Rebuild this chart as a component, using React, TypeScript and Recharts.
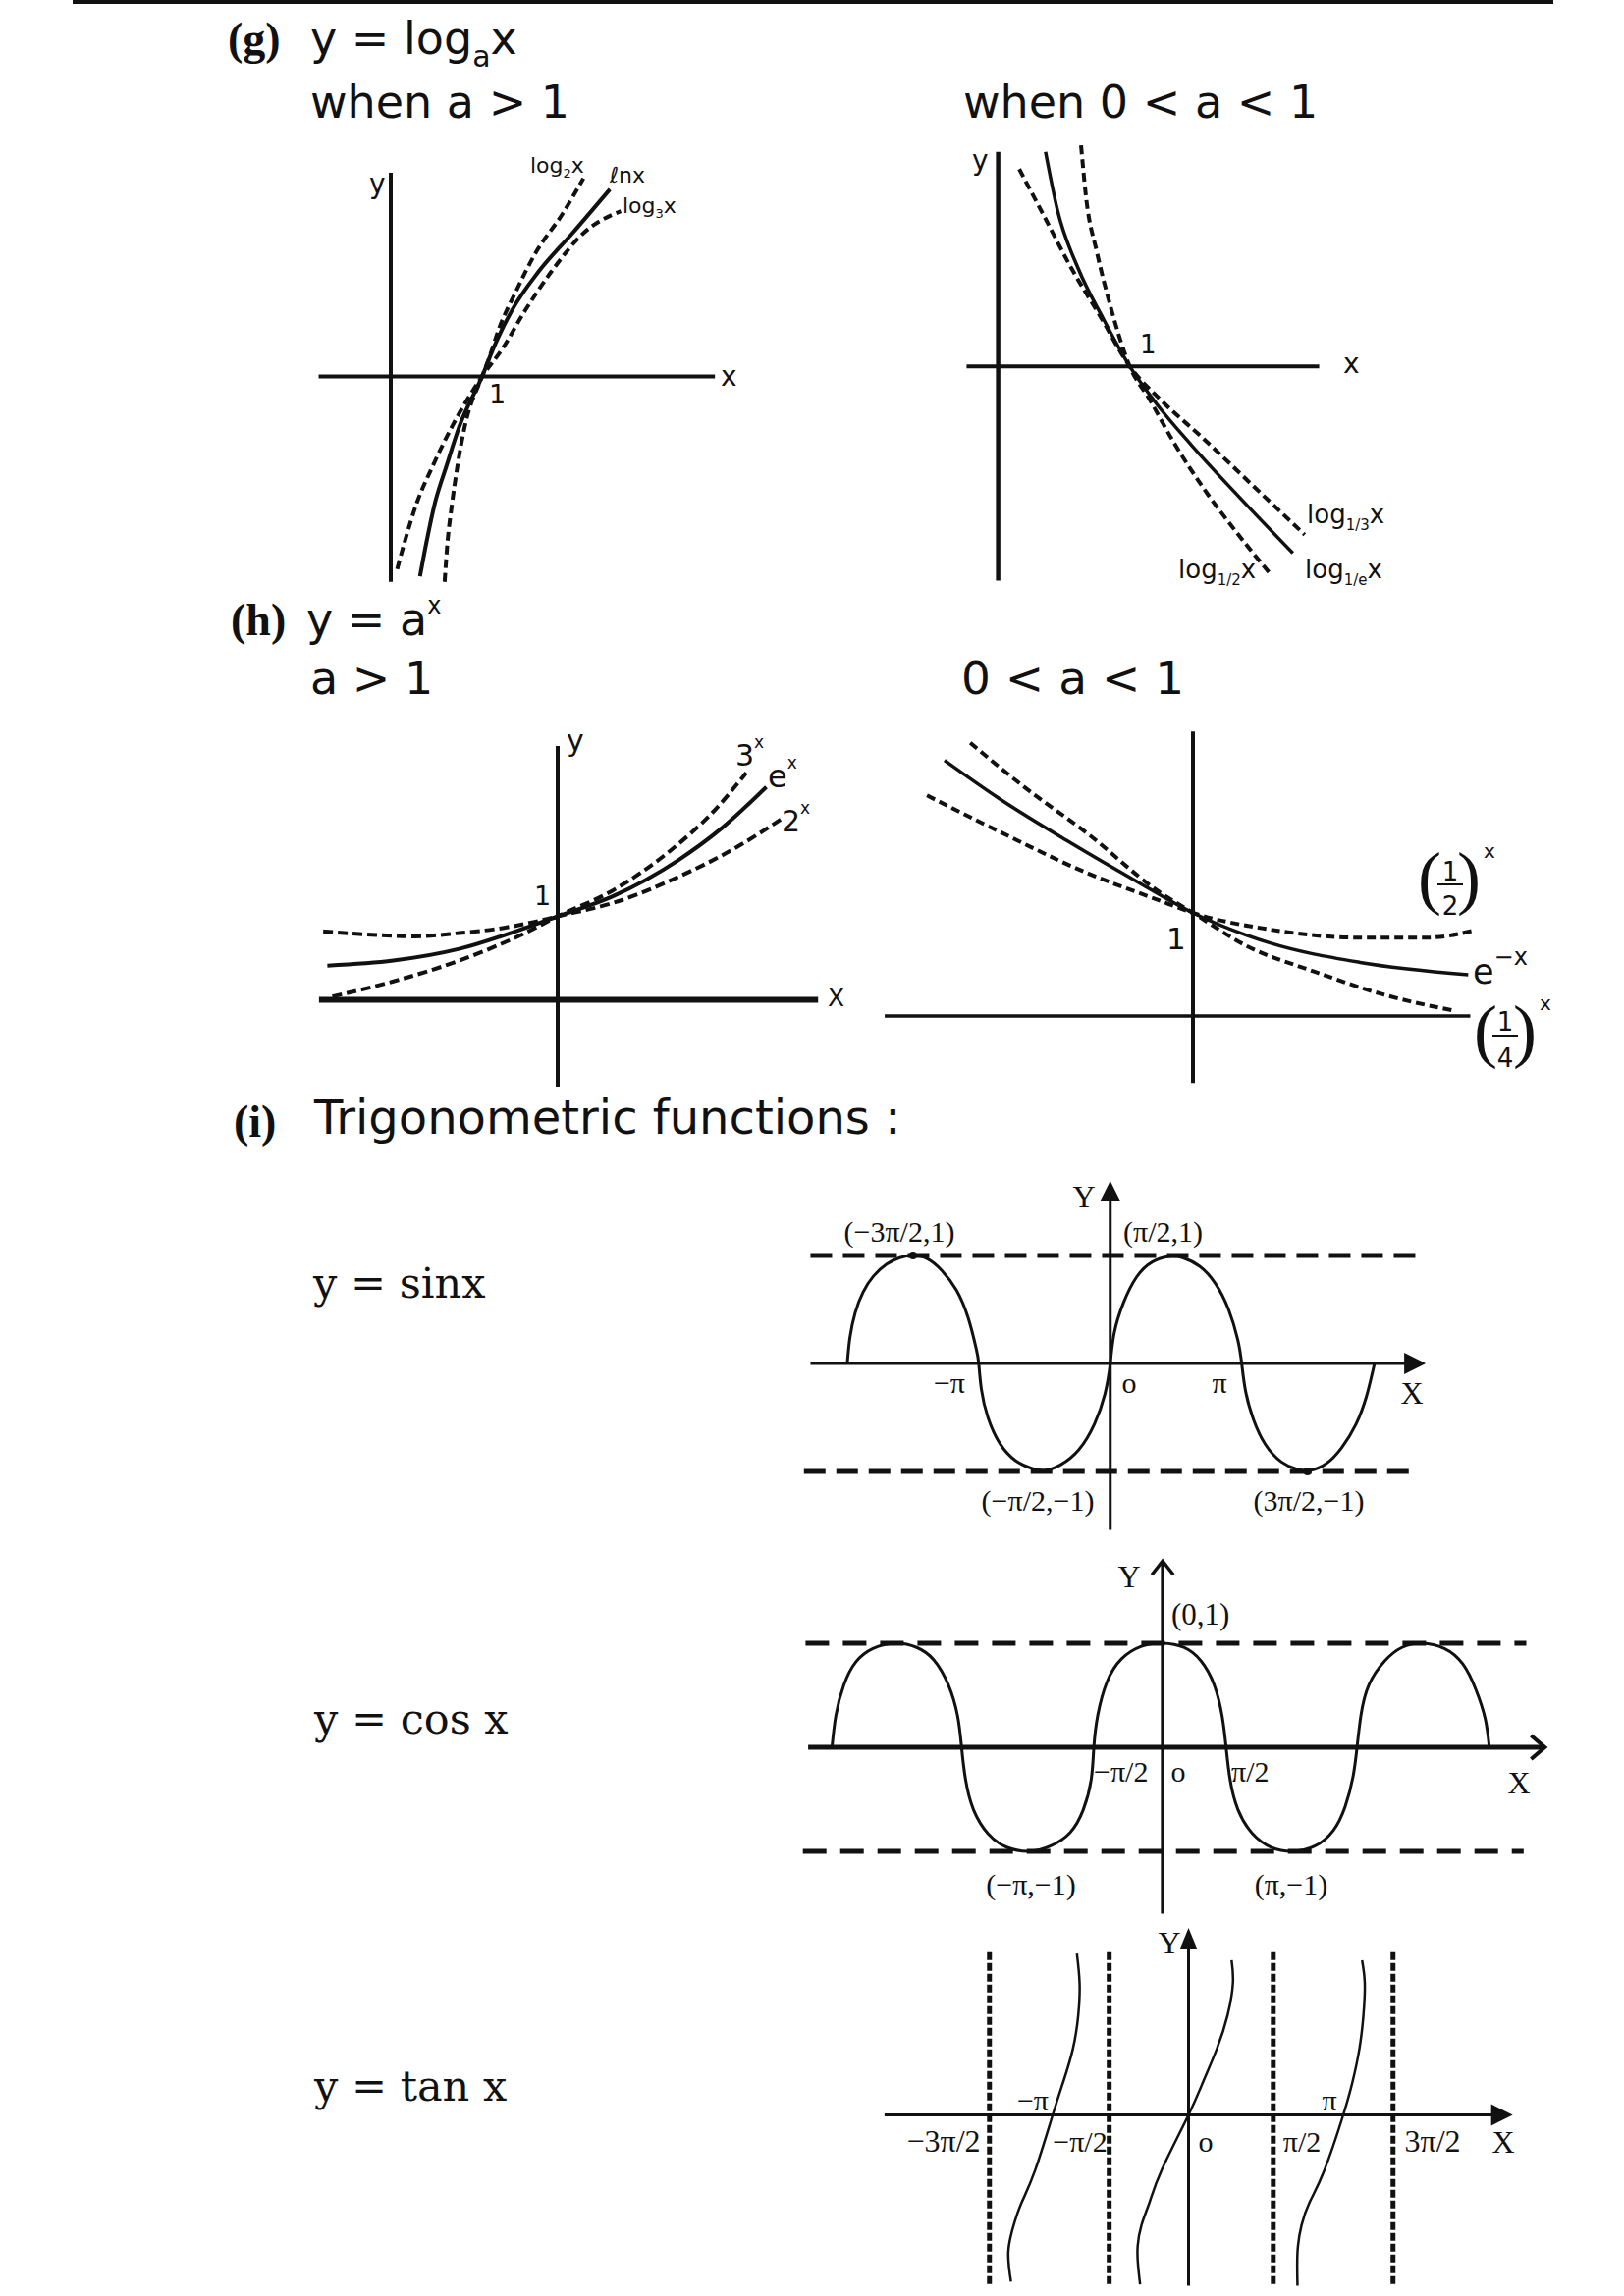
import React from 'react';
import { LineChart, Line, XAxis, YAxis, ReferenceLine, ReferenceDot } from 'recharts';

// ---------------- data ----------------
// (g) y = log_a x, a > 1   (1 unit = distance from O to 1 on the x-axis)
const lnXData = [[0.32,-2.19],[0.39,-1.82],[0.48,-1.40],[0.61,-0.98],[0.75,-0.55],[1.0,0],[1.12,0.30],[1.33,0.73],[1.62,1.15],[1.99,1.57],[2.40,2.05]];
const log2Data = [[0.59,-2.25],[0.62,-1.83],[0.67,-1.40],[0.73,-0.98],[0.81,-0.55],[1.0,0],[1.08,0.21],[1.18,0.51],[1.37,0.93],[1.59,1.36],[1.88,1.78],[2.11,2.17]];
const log3Data = [[0.07,-2.11],[0.15,-1.82],[0.28,-1.40],[0.46,-0.98],[0.67,-0.55],[1.0,0],[1.22,0.30],[1.47,0.72],[1.76,1.15],[2.11,1.57],[2.52,1.81]];
// (g) 0 < a < 1
const logInvEData = [[0.36,1.63],[0.45,1.19],[0.61,0.74],[0.80,0.36],[1.0,0],[1.20,-0.28],[1.47,-0.60],[1.81,-0.97],[2.24,-1.42]];
const logHalfData = [[0.63,1.68],[0.67,1.27],[0.75,0.87],[0.85,0.47],[1.0,0],[1.15,-0.25],[1.33,-0.57],[1.57,-0.94],[1.81,-1.26],[2.07,-1.58]];
const logThirdData = [[0.16,1.50],[0.35,1.14],[0.56,0.74],[0.77,0.39],[1.0,0],[1.23,-0.25],[1.55,-0.54],[1.95,-0.92],[2.33,-1.28]];
// (h) y = a^x, a > 1
const expEData = [[-2.76,0.41],[-1.97,0.47],[-1.18,0.61],[-0.39,0.86],[0,1],[0.66,1.24],[1.44,1.67],[1.97,2.06],[2.50,2.55]];
const exp3Data = [[-2.70,0.04],[-1.97,0.22],[-1.18,0.47],[-0.39,0.80],[0,1],[0.66,1.31],[1.34,1.78],[1.86,2.25],[2.26,2.72]];
const exp2Data = [[-2.81,0.82],[-2.23,0.78],[-1.71,0.76],[-1.18,0.80],[-0.66,0.86],[-0.34,0.92],[0,1],[0.66,1.16],[1.44,1.47],[2.13,1.82],[2.70,2.18]];
// (h) 0 < a < 1
const expNegEData = [[-2.41,2.48],[-1.88,2.11],[-1.22,1.70],[-0.57,1.32],[0,1],[0.74,0.71],[1.62,0.52],[2.67,0.40]];
const expHalfData = [[-2.58,2.14],[-1.88,1.79],[-1.01,1.38],[-0.35,1.13],[0,1],[0.74,0.84],[1.62,0.76],[2.27,0.76],[2.73,0.83]];
const expQuarterData = [[-2.16,2.65],[-1.66,2.24],[-1.01,1.76],[-0.35,1.22],[0,1],[0.52,0.68],[1.18,0.43],[1.84,0.21],[2.54,0.05]];
// (i) y = sin x   (x in multiples of π)
const sinData = [
  [-2.0,0],[-1.98,0.24],[-1.94,0.47],[-1.88,0.66],[-1.8,0.81],[-1.7,0.92],[-1.6,0.98],[-1.5,1.0],[-1.39,0.97],[-1.28,0.86],[-1.17,0.68],[-1.08,0.42],[-1.02,0.14],[-1.0,0],
  [-0.98,-0.24],[-0.93,-0.5],[-0.84,-0.74],[-0.72,-0.9],[-0.6,-0.97],[-0.5,-0.99],[-0.38,-0.94],[-0.24,-0.8],[-0.12,-0.56],[-0.04,-0.28],[0,0],
  [0.03,0.28],[0.1,0.56],[0.2,0.8],[0.32,0.94],[0.45,0.99],[0.55,0.98],[0.68,0.9],[0.8,0.74],[0.9,0.5],[0.97,0.22],[1.0,0],
  [1.03,-0.26],[1.09,-0.52],[1.18,-0.75],[1.3,-0.91],[1.42,-0.98],[1.52,-0.99],[1.64,-0.93],[1.76,-0.78],[1.87,-0.56],[1.95,-0.3],[2.01,0]];
// (i) y = cos x   (x in multiples of π)
const cosData = [
  [-2.5,0],[-2.47,0.31],[-2.41,0.6],[-2.32,0.82],[-2.19,0.95],[-2.02,1.0],[-1.86,0.96],[-1.73,0.84],[-1.62,0.6],[-1.55,0.3],[-1.52,0],
  [-1.49,-0.31],[-1.43,-0.6],[-1.32,-0.83],[-1.18,-0.96],[-1.01,-1.0],[-0.85,-0.95],[-0.7,-0.82],[-0.6,-0.6],[-0.54,-0.31],[-0.52,0],
  [-0.49,0.31],[-0.42,0.63],[-0.31,0.85],[-0.16,0.97],[0,1],[0.16,0.96],[0.29,0.83],[0.39,0.6],[0.45,0.3],[0.48,0],
  [0.51,-0.31],[0.57,-0.6],[0.68,-0.83],[0.82,-0.96],[0.98,-1.0],[1.15,-0.95],[1.29,-0.8],[1.38,-0.57],[1.44,-0.28],[1.47,0],
  [1.5,0.31],[1.56,0.6],[1.68,0.83],[1.81,0.96],[1.96,1.0],[2.13,0.95],[2.27,0.8],[2.37,0.55],[2.44,0.27],[2.47,0]];
// (i) y = tan x   (x in multiples of π, as sketched)
const tanLeftData = [[-1.32,-1.24],[-1.34,-1.02],[-1.30,-0.82],[-1.24,-0.65],[-1.14,-0.41],[-1.01,0],[-0.93,0.25],[-0.86,0.49],[-0.82,0.74],[-0.81,0.98],[-0.83,1.20]];
const tanMidData = [[-0.36,-1.26],[-0.38,-1.02],[-0.35,-0.82],[-0.29,-0.65],[-0.20,-0.41],[0,0],[0.11,0.25],[0.21,0.49],[0.29,0.74],[0.33,0.98],[0.32,1.15]];
const tanRightData = [[0.81,-1.27],[0.81,-1.02],[0.84,-0.82],[0.90,-0.65],[1.01,-0.41],[1.15,0],[1.22,0.25],[1.27,0.49],[1.30,0.74],[1.31,0.98],[1.29,1.15]];
const tanAsymptotes = [-1.48, -0.59, 0.63, 1.52];

// tick labels / annotations
const sinTickLabels = ['−π', 'o', 'π'];
const sinPointLabels = ['(−3π/2,1)', '(π/2,1)', '(−π/2,−1)', '(3π/2,−1)'];
const cosTickLabels = ['−π/2', 'o', 'π/2'];
const cosPointLabels = ['(0,1)', '(−π,−1)', '(π,−1)'];
const tanTickLabels = ['−3π/2', '−π/2', 'o', 'π/2', '3π/2'];
const tanAboveLabels = ['−π', 'π'];

// ---------------- helpers ----------------
const toPts = (a: number[][]) => a.map(([x, y]) => ({ x, y }));
const INK = '#111';
const SANS = "'DejaVu Sans', sans-serif";
const SERIF = "'DejaVu Serif', serif";
const TIMES = "'Liberation Serif', serif";

const lineProps = { dot: false, isAnimationActive: false, stroke: INK, dataKey: 'y' } as const;

function Frame({ left, top, width, height, xDomain, yDomain, children }: any) {
  return (
    <div style={{ position: 'absolute', left, top, width, height }}>
      <LineChart width={width} height={height} margin={{ top: 0, right: 0, bottom: 0, left: 0 }}>
        <XAxis type="number" dataKey="x" domain={xDomain} hide allowDataOverflow />
        <YAxis type="number" dataKey="y" domain={yDomain} hide allowDataOverflow />
        {children}
      </LineChart>
    </div>
  );
}

const seg = (x1: number, y1: number, x2: number, y2: number) => [{ x: x1, y: y1 }, { x: x2, y: y2 }];

const arrowRight = (half: number, len: number) => (p: any) => (
  <polygon points={`${p.cx},${p.cy} ${p.cx - len},${p.cy - half} ${p.cx - len},${p.cy + half}`} fill={INK} />
);
const arrowUp = (half: number, len: number) => (p: any) => (
  <polygon points={`${p.cx},${p.cy} ${p.cx - half},${p.cy + len} ${p.cx + half},${p.cy + len}`} fill={INK} />
);
const chevronRight = (half: number, len: number) => (p: any) => (
  <polyline points={`${p.cx - len},${p.cy - half} ${p.cx},${p.cy} ${p.cx - len},${p.cy + half}`} fill="none" stroke={INK} strokeWidth={4} />
);
const chevronUp = (half: number, len: number) => (p: any) => (
  <polyline points={`${p.cx - half},${p.cy + len} ${p.cx},${p.cy} ${p.cx + half},${p.cy + len}`} fill="none" stroke={INK} strokeWidth={3.5} />
);

export default function App() {
  return (
    <div style={{ position: 'absolute', left: 0, top: 0, width: 1654, height: 2339, background: '#fff', overflow: 'hidden' }}>
      <div style={{ position: 'absolute', left: 74, top: 0, width: 1508, height: 4, background: INK }} />

      {/* (g) a > 1 */}
      <Frame left={305} top={151} width={465} height={465} xDomain={[-1, 4]} yDomain={[-2.5, 2.5]}>
        <ReferenceLine segment={seg(-0.79, 0, 3.55, 0)} stroke={INK} strokeWidth={4} ifOverflow="visible" />
        <ReferenceLine segment={seg(0, 2.23, 0, -2.25)} stroke={INK} strokeWidth={4} ifOverflow="visible" />
        <Line {...lineProps} data={toPts(log2Data)} type="monotone" strokeWidth={4} strokeDasharray="9 5" />
        <Line {...lineProps} data={toPts(log3Data)} type="monotone" strokeWidth={4} strokeDasharray="9 5" />
        <Line {...lineProps} data={toPts(lnXData)} type="monotone" strokeWidth={4} />
      </Frame>

      {/* (g) 0 < a < 1 */}
      <Frame left={962.8} top={132} width={428.8} height={482.4} xDomain={[-0.4, 2.8]} yDomain={[-1.8, 1.8]}>
        <ReferenceLine segment={seg(-0.24, 0, 2.44, 0)} stroke={INK} strokeWidth={4} ifOverflow="visible" />
        <ReferenceLine segment={seg(0, 1.63, 0, -1.63)} stroke={INK} strokeWidth={4.5} ifOverflow="visible" />
        <Line {...lineProps} data={toPts(logHalfData)} type="monotone" strokeWidth={4} strokeDasharray="9 5" />
        <Line {...lineProps} data={toPts(logThirdData)} type="monotone" strokeWidth={4} strokeDasharray="9 5" />
        <Line {...lineProps} data={toPts(logInvEData)} type="monotone" strokeWidth={3.5} />
      </Frame>

      {/* (h) a > 1 */}
      <Frame left={296.3} top={720.8} width={544} height={425} xDomain={[-3.2, 3.2]} yDomain={[-1.5, 3.5]}>
        <ReferenceLine segment={seg(-2.86, 0, 3.12, 0)} stroke={INK} strokeWidth={6} ifOverflow="visible" />
        <ReferenceLine segment={seg(0, 3.04, 0, -1.04)} stroke={INK} strokeWidth={4} ifOverflow="visible" />
        <Line {...lineProps} data={toPts(exp3Data)} type="monotone" strokeWidth={4} strokeDasharray="10 5" />
        <Line {...lineProps} data={toPts(exp2Data)} type="monotone" strokeWidth={4} strokeDasharray="10 5" />
        <Line {...lineProps} data={toPts(expEData)} type="monotone" strokeWidth={4} />
      </Frame>

      {/* (h) 0 < a < 1 */}
      <Frame left={879.2} top={720} width={672} height={420} xDomain={[-3.2, 3.2]} yDomain={[-1, 3]}>
        <ReferenceLine segment={seg(-2.99, 0, 2.69, 0)} stroke={INK} strokeWidth={3.5} ifOverflow="visible" />
        <ReferenceLine segment={seg(0, 2.76, 0, -0.65)} stroke={INK} strokeWidth={4} ifOverflow="visible" />
        <Line {...lineProps} data={toPts(expQuarterData)} type="monotone" strokeWidth={4} strokeDasharray="9 5" />
        <Line {...lineProps} data={toPts(expHalfData)} type="monotone" strokeWidth={4} strokeDasharray="9 5" />
        <Line {...lineProps} data={toPts(expNegEData)} type="monotone" strokeWidth={3.5} />
      </Frame>

      {/* sin */}
      <Frame left={795.65} top={1169.3} width={669.5} height={440} xDomain={[-2.5, 2.5]} yDomain={[-2, 2]}>
        <ReferenceLine segment={seg(-2.28, 1, 2.33, 1)} stroke={INK} strokeWidth={5} strokeDasharray="22 11" ifOverflow="visible" />
        <ReferenceLine segment={seg(-2.33, -1, 2.28, -1)} stroke={INK} strokeWidth={5} strokeDasharray="22 11" ifOverflow="visible" />
        <ReferenceLine segment={seg(-2.28, 0, 2.3, 0)} stroke={INK} strokeWidth={3} ifOverflow="visible" />
        <ReferenceLine segment={seg(0, 1.6, 0, -1.54)} stroke={INK} strokeWidth={3} ifOverflow="visible" />
        <ReferenceDot x={2.40} y={0} r={10} shape={arrowRight(11, 22)} ifOverflow="visible" />
        <ReferenceDot x={0} y={1.69} r={10} shape={arrowUp(10, 20)} ifOverflow="visible" />
        <Line {...lineProps} data={toPts(sinData)} type="natural" strokeWidth={3} />
        <ReferenceDot x={-1.5} y={1} r={4} fill={INK} stroke="none" ifOverflow="visible" />
        <ReferenceDot x={1.5} y={-1} r={4} fill={INK} stroke="none" ifOverflow="visible" />
      </Frame>

      {/* cos */}
      <Frame left={779.6} top={1568} width={808.2} height={424} xDomain={[-3, 3]} yDomain={[-2, 2]}>
        <ReferenceLine segment={seg(-2.70, 1, 2.75, 1)} stroke={INK} strokeWidth={5} strokeDasharray="24 14" ifOverflow="visible" />
        <ReferenceLine segment={seg(-2.72, -1, 2.73, -1)} stroke={INK} strokeWidth={5} strokeDasharray="24 14" ifOverflow="visible" />
        <ReferenceLine segment={seg(-2.68, 0, 2.88, 0)} stroke={INK} strokeWidth={5} ifOverflow="visible" />
        <ReferenceLine segment={seg(0, 1.78, 0, -1.6)} stroke={INK} strokeWidth={3.5} ifOverflow="visible" />
        <ReferenceDot x={2.89} y={0} r={10} shape={chevronRight(12, 14)} ifOverflow="visible" />
        <ReferenceDot x={0} y={1.79} r={10} shape={chevronUp(11, 14)} ifOverflow="visible" />
        <Line {...lineProps} data={toPts(cosData)} type="natural" strokeWidth={3} />
      </Frame>

      {/* tan */}
      <Frame left={867.9} top={1948.5} width={685} height={411} xDomain={[-2.5, 2.5]} yDomain={[-1.5, 1.5]}>
        {tanAsymptotes.map((a) => (
          <ReferenceLine key={a} segment={seg(a, 1.21, a, -1.28)} stroke={INK} strokeWidth={5} strokeDasharray="8 3" ifOverflow="visible" />
        ))}
        <ReferenceLine segment={seg(-2.26, 0, 2.3, 0)} stroke={INK} strokeWidth={3} ifOverflow="visible" />
        <ReferenceLine segment={seg(0, 1.3, 0, -1.27)} stroke={INK} strokeWidth={3} ifOverflow="visible" />
        <ReferenceDot x={2.41} y={0} r={10} shape={arrowRight(11, 22)} ifOverflow="visible" />
        <ReferenceDot x={0} y={1.39} r={10} shape={arrowUp(9, 22)} ifOverflow="visible" />
        <Line {...lineProps} data={toPts(tanLeftData)} type="natural" strokeWidth={2.5} />
        <Line {...lineProps} data={toPts(tanMidData)} type="natural" strokeWidth={2.5} />
        <Line {...lineProps} data={toPts(tanRightData)} type="natural" strokeWidth={2.5} />
      </Frame>

      {/* ---------------- text ---------------- */}
      <svg width={1654} height={2339} style={{ position: 'absolute', left: 0, top: 0, pointerEvents: 'none' }} fill={INK}>
        {/* headings */}
        <text x={232} y={55} fontFamily={TIMES} fontWeight="bold" fontSize={46}>(g)</text>
        <text x={316} y={55} fontFamily={SANS} fontSize={46}>y = log<tspan dy={13} fontSize={30}>a</tspan><tspan dy={-13}>x</tspan></text>
        <text x={316} y={120} fontFamily={SANS} fontSize={46}>when a &gt; 1</text>
        <text x={981} y={120} fontFamily={SANS} fontSize={46}>when 0 &lt; a &lt; 1</text>

        <text x={235} y={647} fontFamily={TIMES} fontWeight="bold" fontSize={46}>(h)</text>
        <text x={312} y={647} fontFamily={SANS} fontSize={46}>y = a<tspan dy={-22} fontSize={24}>x</tspan></text>
        <text x={316} y={707} fontFamily={SANS} fontSize={46}>a &gt; 1</text>
        <text x={979} y={707} fontFamily={SANS} fontSize={47}>0 &lt; a &lt; 1</text>

        <text x={238} y={1158} fontFamily={TIMES} fontWeight="bold" fontSize={46}>(i)</text>
        <text x={320} y={1155} fontFamily={SANS} fontSize={48}>Trigonometric functions :</text>

        <text x={319} y={1322} fontFamily={SERIF} fontSize={43}>y = sinx</text>
        <text x={320} y={1766} fontFamily={SERIF} fontSize={43}>y = cos x</text>
        <text x={320} y={2140} fontFamily={SERIF} fontSize={43}>y = tan x</text>

        {/* (g) a>1 labels */}
        <text x={376} y={197} fontFamily={SANS} fontSize={28}>y</text>
        <text x={734} y={393} fontFamily={SANS} fontSize={28}>x</text>
        <text x={498} y={411} fontFamily={SANS} fontSize={27}>1</text>
        <text x={540} y={176} fontFamily={SANS} fontSize={22}>log<tspan dy={5} fontSize={13}>2</tspan><tspan dy={-5}>x</tspan></text>
        <text x={621} y={186} fontFamily={SANS} fontSize={22}>ℓnx</text>
        <text x={634} y={217} fontFamily={SANS} fontSize={22}>log<tspan dy={5} fontSize={13}>3</tspan><tspan dy={-5}>x</tspan></text>

        {/* (g) 0<a<1 labels */}
        <text x={990} y={173} fontFamily={SANS} fontSize={28}>y</text>
        <text x={1368} y={380} fontFamily={SANS} fontSize={28}>x</text>
        <text x={1161} y={360} fontFamily={SANS} fontSize={26}>1</text>
        <text x={1331} y={533} fontFamily={SANS} fontSize={26}>log<tspan dy={7} fontSize={15}>1/3</tspan><tspan dy={-7}>x</tspan></text>
        <text x={1200} y={589} fontFamily={SANS} fontSize={26}>log<tspan dy={7} fontSize={15}>1/2</tspan><tspan dy={-7}>x</tspan></text>
        <text x={1329} y={589} fontFamily={SANS} fontSize={26}>log<tspan dy={7} fontSize={15}>1/e</tspan><tspan dy={-7}>x</tspan></text>

        {/* (h) a>1 labels */}
        <text x={577} y={765} fontFamily={SANS} fontSize={30}>y</text>
        <text x={544} y={922} fontFamily={SANS} fontSize={27}>1</text>
        <text x={843} y={1025} fontFamily={SANS} fontSize={25}>X</text>
        <text x={749} y={780} fontFamily={SANS} fontSize={30}>3<tspan dy={-18} fontSize={17}>x</tspan></text>
        <text x={782} y={802} fontFamily={SANS} fontSize={32}>e<tspan dy={-19} fontSize={17}>x</tspan></text>
        <text x={796} y={847} fontFamily={SANS} fontSize={30}>2<tspan dy={-18} fontSize={17}>x</tspan></text>

        {/* (h) 0<a<1 labels */}
        <text x={1188} y={967} fontFamily={SANS} fontSize={31}>1</text>
        <text x={1456} y={918} fontFamily={TIMES} fontSize={72} textAnchor="middle">(</text>
        <text x={1496} y={918} fontFamily={TIMES} fontSize={72} textAnchor="middle">)</text>
        <text x={1477} y={897} fontFamily={SANS} fontSize={26} textAnchor="middle">1</text>
        <line x1={1464} y1={901} x2={1490} y2={901} stroke={INK} strokeWidth={2} />
        <text x={1477} y={932} fontFamily={SANS} fontSize={26} textAnchor="middle">2</text>
        <text x={1511} y={874} fontFamily={SANS} fontSize={20}>x</text>
        <text x={1500} y={1002} fontFamily={SANS} fontSize={35}>e<tspan dy={-19} fontSize={24}>−x</tspan></text>
        <text x={1513} y={1074} fontFamily={TIMES} fontSize={72} textAnchor="middle">(</text>
        <text x={1553} y={1074} fontFamily={TIMES} fontSize={72} textAnchor="middle">)</text>
        <text x={1533} y={1050} fontFamily={SANS} fontSize={26} textAnchor="middle">1</text>
        <line x1={1520} y1={1055} x2={1546} y2={1055} stroke={INK} strokeWidth={2} />
        <text x={1533} y={1087} fontFamily={SANS} fontSize={26} textAnchor="middle">4</text>
        <text x={1568} y={1029} fontFamily={SANS} fontSize={20}>x</text>

        {/* sin labels */}
        <text x={916} y={1265} fontFamily={TIMES} fontSize={30} textAnchor="middle">{sinPointLabels[0]}</text>
        <text x={1144} y={1265} fontFamily={TIMES} fontSize={30}>{sinPointLabels[1]}</text>
        <text x={1057} y={1539} fontFamily={TIMES} fontSize={30} textAnchor="middle">{sinPointLabels[2]}</text>
        <text x={1333} y={1539} fontFamily={TIMES} fontSize={30} textAnchor="middle">{sinPointLabels[3]}</text>
        <text x={1104} y={1230} fontFamily={TIMES} fontSize={32} textAnchor="middle">Y</text>
        <text x={1438} y={1430} fontFamily={TIMES} fontSize={32} textAnchor="middle">X</text>
        <text x={983} y={1419} fontFamily={TIMES} fontSize={30} textAnchor="end">{sinTickLabels[0]}</text>
        <text x={1150} y={1419} fontFamily={TIMES} fontSize={30} textAnchor="middle">{sinTickLabels[1]}</text>
        <text x={1242} y={1419} fontFamily={TIMES} fontSize={30} textAnchor="middle">{sinTickLabels[2]}</text>

        {/* cos labels */}
        <text x={1150} y={1617} fontFamily={TIMES} fontSize={32} textAnchor="middle">Y</text>
        <text x={1193} y={1655} fontFamily={TIMES} fontSize={31}>{cosPointLabels[0]}</text>
        <text x={1050} y={1930} fontFamily={TIMES} fontSize={30} textAnchor="middle">{cosPointLabels[1]}</text>
        <text x={1315} y={1930} fontFamily={TIMES} fontSize={30} textAnchor="middle">{cosPointLabels[2]}</text>
        <text x={1114} y={1815} fontFamily={TIMES} fontSize={30}>{cosTickLabels[0]}</text>
        <text x={1200} y={1815} fontFamily={TIMES} fontSize={30} textAnchor="middle">{cosTickLabels[1]}</text>
        <text x={1254} y={1815} fontFamily={TIMES} fontSize={30}>{cosTickLabels[2]}</text>
        <text x={1547} y={1827} fontFamily={TIMES} fontSize={32} textAnchor="middle">X</text>

        {/* tan labels */}
        <text x={1191} y={1990} fontFamily={TIMES} fontSize={32} textAnchor="middle">Y</text>
        <text x={1052} y={2150} fontFamily={TIMES} fontSize={30} textAnchor="middle">{tanAboveLabels[0]}</text>
        <text x={1354} y={2150} fontFamily={TIMES} fontSize={30} textAnchor="middle">{tanAboveLabels[1]}</text>
        <text x={961} y={2192} fontFamily={TIMES} fontSize={32} textAnchor="middle">{tanTickLabels[0]}</text>
        <text x={1100} y={2192} fontFamily={TIMES} fontSize={30} textAnchor="middle">{tanTickLabels[1]}</text>
        <text x={1228} y={2192} fontFamily={TIMES} fontSize={30} textAnchor="middle">{tanTickLabels[2]}</text>
        <text x={1326} y={2192} fontFamily={TIMES} fontSize={30} textAnchor="middle">{tanTickLabels[3]}</text>
        <text x={1459} y={2192} fontFamily={TIMES} fontSize={32} textAnchor="middle">{tanTickLabels[4]}</text>
        <text x={1531} y={2193} fontFamily={TIMES} fontSize={32} textAnchor="middle">X</text>
      </svg>
    </div>
  );
}
